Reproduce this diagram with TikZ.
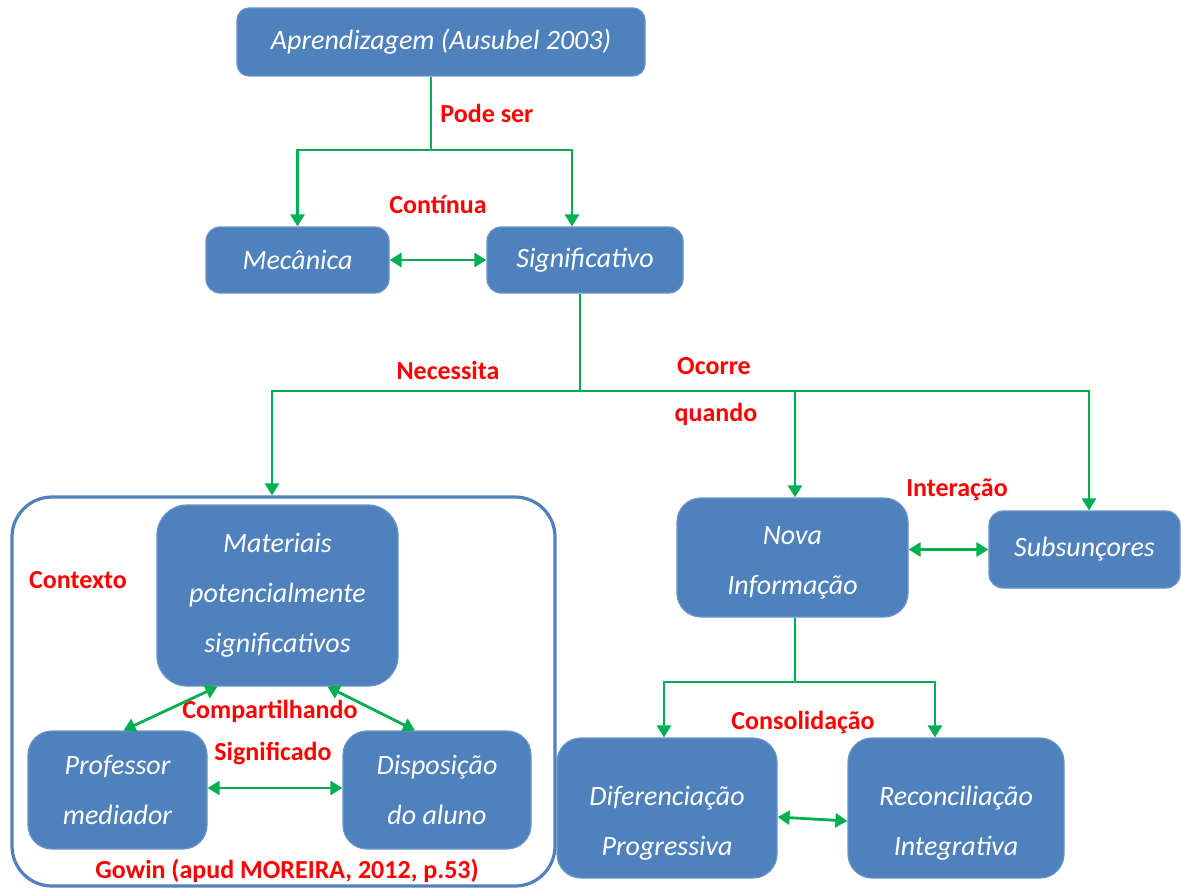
\documentclass[tikz,border=0pt]{standalone}
\usepackage{fontspec}
\setmainfont{Carlito}
\usepackage{tikz}
\usetikzlibrary{arrows.meta}

\definecolor{boxblue}{HTML}{4F81BD}
\definecolor{arrgreen}{HTML}{00B050}
\definecolor{lblred}{HTML}{FF0000}

\begin{document}
\begin{tikzpicture}[x=0.5pt, y=-0.5pt,
    main/.style={rectangle, rounded corners=7pt, fill=boxblue, draw=boxblue!85!white, line width=0.6pt, text=white, align=center, inner sep=0pt, font=\fontsize{14}{25}\selectfont\itshape},
    wtext/.style={text=white, align=center, inner sep=0pt, font=\fontsize{14}{25}\selectfont\itshape},
    info/.style={text=lblred, inner sep=0pt, font=\fontsize{13}{15}\selectfont\bfseries},
    ln/.style={draw=arrgreen, line width=1.4pt},
    n/.style={ln, -{Triangle[width=7pt, length=6pt]}},
    b/.style={ln, {Triangle[width=7pt, length=6pt]}-{Triangle[width=7pt, length=6pt]}}]
    \useasboundingbox (0,0) rectangle (1181,888);
    % container
    \node[draw=boxblue, line width=1.6pt, rounded corners=20pt, minimum width=271.5pt, minimum height=194.5pt, inner sep=0pt] (ctx) at (283.5,691.5) {};
    % nodes
    \node[main, minimum width=204pt, minimum height=34pt, rounded corners=6pt] (apr) at (441,42) {Aprendizagem (Ausubel 2003)};
    \node[main, minimum width=91.5pt, minimum height=33pt] (mec) at (297.5,260) {Mecânica};
    \node[main, minimum width=98pt, minimum height=33pt] (sig) at (585,260) {Significativo};
    \node[main, minimum width=120.5pt, minimum height=90.5pt, rounded corners=15pt] (mat) at (277.5,595.5) {Materiais\\potencialmente\\significativos};
    \node[main, minimum width=89.5pt, minimum height=59pt, rounded corners=12pt] (prof) at (117.5,790) {Professor\\mediador};
    \node[main, minimum width=94pt, minimum height=59pt, rounded corners=12pt] (disp) at (437,790) {Disposição\\do aluno};
    \node[main, minimum width=115.5pt, minimum height=59.5pt, rounded corners=12pt] (nova) at (792.5,557.5) {};
    \node[wtext] (novat) at (792.5,563) {Nova\\Informação};
    \node[main, minimum width=95.5pt, minimum height=38.5pt] (sub) at (1084.5,549.5) {Subsunçores};
    \node[main, minimum width=110pt, minimum height=70pt, rounded corners=12pt] (dif) at (667,808) {};
    \node[wtext] (dift) at (667,823) {Diferenciação\\Progressiva};
    \node[main, minimum width=108pt, minimum height=70pt, rounded corners=12pt] (rec) at (956,808) {};
    \node[wtext] (rect) at (956,823) {Reconciliação\\Integrativa};
    % labels
    \node[info] (pode) at (487,113) {Pode ser};
    \node[info] (cont) at (438,205) {Contínua};
    \node[info] (nec) at (448,370) {Necessita};
    \node[info] (oco) at (714,366) {Ocorre};
    \node[info] (qua) at (716,414) {quando};
    \node[info] (inter) at (957,490) {Interação};
    \node[info] (ctxl) at (78,580) {Contexto};
    \node[info] (comp) at (270,711) {Compartilhando};
    \node[info] (signl) at (273,754) {Significado};
    \node[info] (gow) at (287,871) {Gowin (apud MOREIRA, 2012, p.53)};
    \node[info] (cons) at (803,723) {Consolidação};
    % junctions
    \coordinate (j1) at (431,150);
    \coordinate (j2) at (580,391);
    \coordinate (j3) at (795,682);
    % edges
    \draw[ln] (apr.south -| j1) -- (j1);
    \draw[n] (j1) -| (mec.north);
    \draw[n] (j1) -| ([xshift=-6.5pt]sig.north);
    \draw[b] (mec) -- (sig);
    \draw[ln] (sig.south -| j2) -- (j2);
    \draw[n] (j2) -| ([xshift=-5.75pt]ctx.north);
    \draw[n] (j2) -| ([xshift=1.25pt]nova.north);
    \draw[n] (j2) -| ([xshift=2.25pt]sub.north);
    \draw[b] (nova.east |- sub) -- (sub.west);
    \draw[ln] (nova.south -| j3) -- (j3);
    \draw[n] (j3) -| ([xshift=-1.5pt]dif.north);
    \draw[n] (j3) -| ([xshift=-10.5pt]rec.north);
    \draw[b] ([yshift=-4.5pt]dif.east) -- ([yshift=-6.5pt]rec.west);
    \draw[b] ([xshift=-30pt]mat.south) -- ([xshift=3pt]prof.north);
    \draw[b] ([xshift=25pt]mat.south) -- ([xshift=-11pt]disp.north);
    \draw[b] ([yshift=1pt]prof.east) -- ([yshift=1pt]disp.west);
\end{tikzpicture}
\end{document}
